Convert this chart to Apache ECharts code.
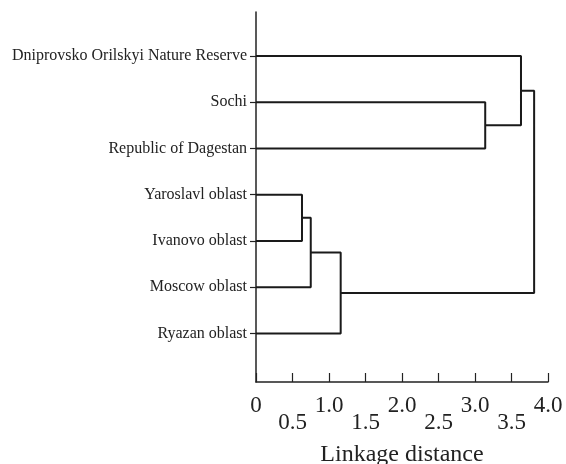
<!DOCTYPE html>
<html>
<head>
<meta charset="utf-8">
<script src="https://cdn.jsdelivr.net/npm/echarts@6/dist/echarts.min.js"></script>
<style>
  html, body { margin: 0; padding: 0; background: #fff; }
  #main { width: 566px; height: 464px; }
</style>
</head>
<body>
<div id="main"></div>
<script>
// leaves, top to bottom
var leaves = [
  'Dniprovsko Orilskyi Nature Reserve',
  'Sochi',
  'Republic of Dagestan',
  'Yaroslavl oblast',
  'Ivanovo oblast',
  'Moscow oblast',
  'Ryazan oblast'
];
// merges: [child a, child b, linkage distance]; new clusters get index 7, 8, ...
var mergeA = [3, 7, 8, 1, 0, 11];
var mergeB = [4, 5, 6, 2, 10, 9];
var mergeDist = [0.63, 0.75, 1.16, 3.14, 3.63, 3.81];

// cluster positions (y = mean of children, x = merge height)
var nodeY = leaves.map(function (l, i) { return i; });
var nodeH = leaves.map(function () { return 0; });
var segs = [];
for (var k = 0; k < mergeDist.length; k++) {
  var a = mergeA[k], b = mergeB[k], h = mergeDist[k];
  segs.push([nodeH[a], nodeY[a]], [h, nodeY[a]], [h, nodeY[b]], [nodeH[b], nodeY[b]], ['-', '-']);
  nodeY.push((nodeY[a] + nodeY[b]) / 2);
  nodeH.push(h);
}

var chart = echarts.init(document.getElementById('main'));
var font = 'Liberation Serif';

chart.setOption({
  backgroundColor: '#ffffff',
  animation: false,
  grid: { left: 256, right: 18, top: 12, bottom: 82, outerBoundsMode: 'none' },
  xAxis: {
    type: 'value',
    min: 0,
    max: 4,
    interval: 0.5,
    name: 'Linkage distance',
    nameLocation: 'middle',
    nameGap: 61,
    nameTextStyle: { fontFamily: font, fontSize: 24, color: '#222' },
    axisLine: { onZero: false, lineStyle: { color: '#222', width: 1.5 } },
    axisTick: { inside: true, length: 9, lineStyle: { color: '#222', width: 1.2 } },
    splitLine: { show: false },
    axisLabel: {
      margin: 12,
      fontFamily: font,
      color: '#222',
      formatter: function (v) {
        var t = v === 0 ? '0' : v.toFixed(1);
        return (Math.round(v * 2) % 2 === 1) ? '{b|' + t + '}' : '{a|' + t + '}';
      },
      rich: {
        a: { fontFamily: font, fontSize: 23, lineHeight: 23, color: '#222' },
        b: { fontFamily: font, fontSize: 23, lineHeight: 23, color: '#222', padding: [34, 0, 0, 0] }
      }
    }
  },
  yAxis: {
    type: 'value',
    inverse: true,
    min: -0.95,
    max: 7.05,
    axisLine: { show: true, onZero: false, lineStyle: { color: '#222', width: 1.5 } },
    axisTick: { show: true, inside: false, length: 6, customValues: [0, 1, 2, 3, 4, 5, 6], lineStyle: { color: '#222', width: 1.2 } },
    splitLine: { show: false },
    axisLabel: {
      margin: 9,
      fontFamily: font,
      fontSize: 16,
      color: '#222',
      customValues: [0, 1, 2, 3, 4, 5, 6],
      formatter: function (v) { return leaves[Math.round(v)]; }
    }
  },
  series: [{
    type: 'line',
    data: segs,
    symbol: 'none',
    connectNulls: false,
    lineStyle: { color: '#1a1a1a', width: 2 }
  }]
});
</script>
</body>
</html>
